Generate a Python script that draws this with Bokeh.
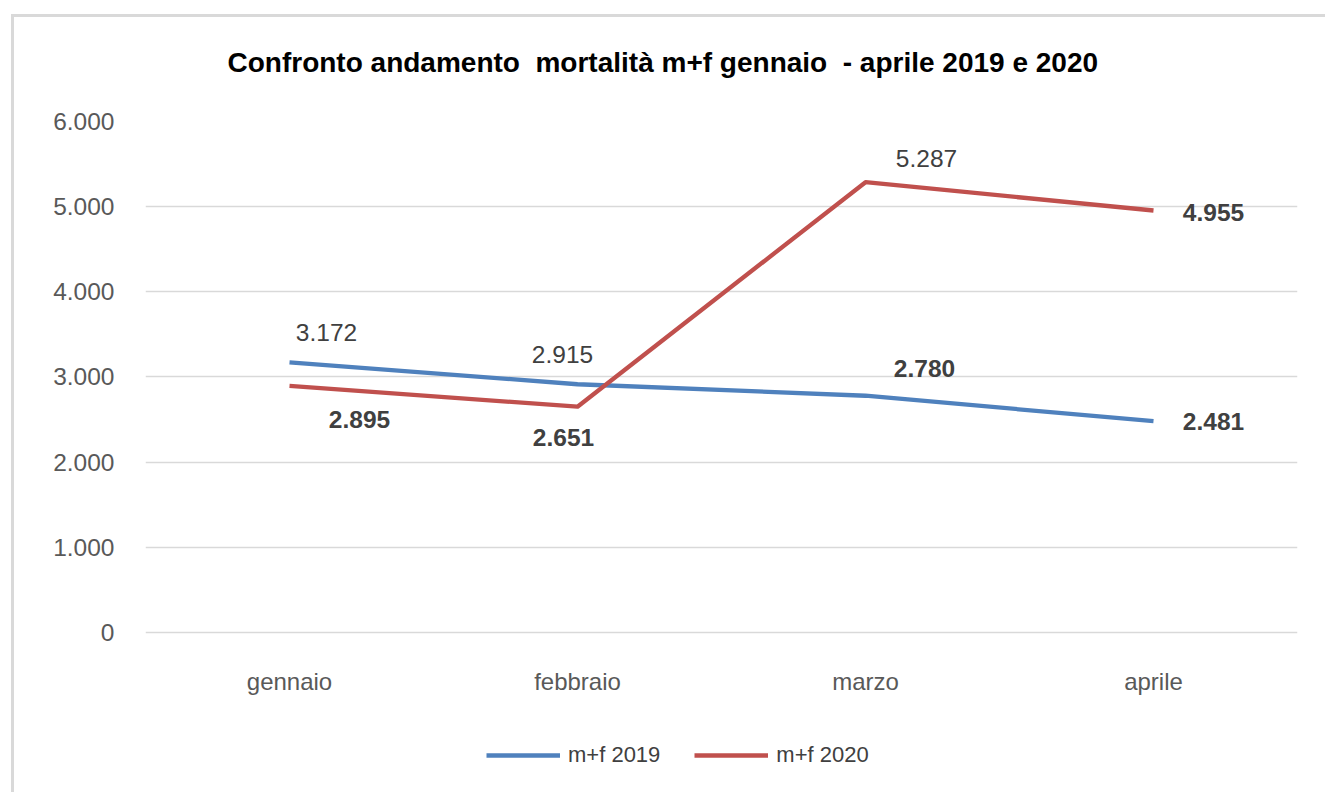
from bokeh.plotting import figure
from bokeh.models import (ColumnDataSource, FactorRange, Range1d, FixedTicker,
                          Legend, LegendItem, Title)
from bokeh.core.properties import value
from bokeh.embed import file_html
from bokeh.resources import INLINE

# ---- data ----
months = ["gennaio", "febbraio", "marzo", "aprile"]
mf_2019 = [3172, 2915, 2780, 2481]
mf_2020 = [2895, 2651, 5287, 4955]
labels_2019 = ["3.172", "2.915", "2.780", "2.481"]
labels_2020 = ["2.895", "2.651", "5.287", "4.955"]
y_ticks = [0, 1000, 2000, 3000, 4000, 5000, 6000]
y_tick_labels = ["0", "1.000", "2.000", "3.000", "4.000", "5.000", "6.000"]
title_text = "Confronto andamento\u00a0 mortalità m+f gennaio\u00a0 - aprile 2019 e 2020"

# ---- styles ----
BLUE = "#4F81BD"
RED = "#C0504D"
FONT = "Liberation Sans"
# label pixel offsets (style only)
off_x_2019 = [37, -15, 59, 60]
off_y_2019 = [-30, -30, -27, 0]
wt_2019 = ["normal", "normal", "bold", "bold"]
off_x_2020 = [70, -14, 61, 60]
off_y_2020 = [34, 31, -24, 2]
wt_2020 = ["bold", "bold", "normal", "bold"]

W, H = 1330, 790
p = figure(width=W, height=H, x_range=FactorRange(*months), y_range=Range1d(-1738, 6000),
           output_backend="svg", toolbar_location=None,
           min_border_left=131, min_border_right=47, min_border_top=104, min_border_bottom=27)
p.margin = (14, 0, 0, 11)
p.styles = {"border-left": "3px solid #d9d9d9", "border-top": "3px solid #d9d9d9"}
p.outline_line_color = None
p.background_fill_color = "white"
p.border_fill_color = "white"

spacer = Title(text="\u00a0", text_font_size="2px", standoff=40)
p.add_layout(spacer, "above")
t = Title(text=title_text, align="left", offset=82, standoff=0,
          text_font=FONT, text_font_size="28px", text_font_style="bold", text_color="#000000")
p.add_layout(t, "above")

p.xgrid.grid_line_color = None
p.ygrid.grid_line_color = "#d9d9d9"
p.ygrid.grid_line_width = 1.3

p.yaxis.ticker = FixedTicker(ticks=y_ticks)
p.yaxis.major_label_overrides = {v: s for v, s in zip(y_ticks, y_tick_labels)}
p.xaxis.fixed_location = 0
for ax in (p.xaxis[0], p.yaxis[0]):
    ax.axis_line_color = None
    ax.major_tick_line_color = None
    ax.minor_tick_line_color = None
    ax.major_label_text_font = FONT
    ax.major_label_text_color = "#595959"
p.yaxis.major_label_text_font_size = "24.5px"
p.yaxis.major_label_standoff = 25
p.xaxis.major_label_text_font_size = "24px"
p.xaxis.major_label_standoff = 30

src19 = ColumnDataSource(dict(x=months, y=mf_2019, t=labels_2019, dx=off_x_2019, dy=off_y_2019, fw=wt_2019))
src20 = ColumnDataSource(dict(x=months, y=mf_2020, t=labels_2020, dx=off_x_2020, dy=off_y_2020, fw=wt_2020))

r19 = p.line("x", "y", source=src19, line_color=BLUE, line_width=4.3, line_join="round")
r20 = p.line("x", "y", source=src20, line_color=RED, line_width=4.3, line_join="round")

for s in (src19, src20):
    p.text("x", "y", text="t", source=s, x_offset="dx", y_offset="dy",
           text_align="center", text_baseline="middle", text_font_size="24.5px",
           text_font_style="fw", text_color="#404040", text_font=value(FONT))

legend = Legend(items=[LegendItem(label="m+f 2019", renderers=[r19]),
                       LegendItem(label="m+f 2020", renderers=[r20])],
                orientation="horizontal", location=(341, 12),
                glyph_width=74, glyph_height=20, label_standoff=8, spacing=34,
                padding=0, margin=0, border_line_color=None, background_fill_alpha=0,
                label_text_font=FONT, label_text_font_size="22px", label_text_color="#404040")
p.add_layout(legend, "center")

open("out.html", "w").write(file_html(p, INLINE))
